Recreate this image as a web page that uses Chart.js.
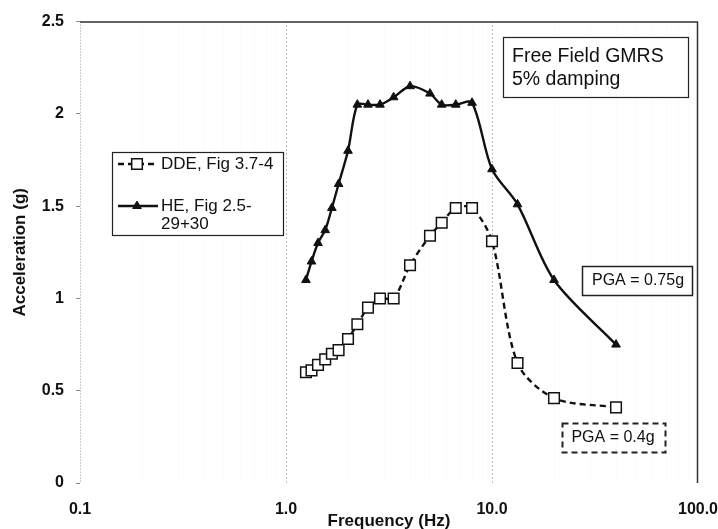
<!DOCTYPE html>
<html>
<head>
<meta charset="utf-8">
<script src="https://cdn.jsdelivr.net/npm/chart.js@4.4.1/dist/chart.umd.min.js"></script>
<style>
  html, body { margin: 0; padding: 0; background: #fff; }
  #wrap { position: relative; width: 718px; height: 529px; }
</style>
</head>
<body>
<div id="wrap"><canvas id="chart" width="718" height="529"></canvas></div>
<script>
// ── Data ─────────────────────────────────────────────────────────────────────
const FREQ_HZ = [1.25, 1.33, 1.43, 1.55, 1.67, 1.8, 2.0, 2.22, 2.5, 2.86, 3.33, 4.0, 5.0, 5.7, 6.67, 8.0, 10.0, 13.3, 20.0, 40.0];
const DDE_G   = [0.60, 0.61, 0.64, 0.67, 0.70, 0.72, 0.78, 0.86, 0.95, 1.00, 1.00, 1.18, 1.34, 1.41, 1.49, 1.49, 1.31, 0.65, 0.46, 0.41];
const HE_G    = [1.10, 1.20, 1.30, 1.37, 1.49, 1.62, 1.80, 2.05, 2.05, 2.05, 2.09, 2.15, 2.11, 2.05, 2.05, 2.06, 1.70, 1.51, 1.10, 0.75];

const SERIES_LABELS = ['DDE, Fig 3.7-4', 'HE, Fig 2.5-29+30'];
const LEGEND_LINES  = [['DDE, Fig 3.7-4'], ['HE, Fig 2.5-', '29+30']];
const X_MAJOR       = [0.1, 1, 10, 100];
const X_MINOR       = [0.2, 0.3, 0.4, 0.5, 0.6, 0.7, 0.8, 0.9, 2, 3, 4, 5, 6, 7, 8, 9, 20, 30, 40, 50, 60, 70, 80, 90];
const NOTE_TITLE    = ['Free Field GMRS', '5% damping'];
const NOTE_PGA_HE   = 'PGA = 0.75g';
const NOTE_PGA_DDE  = 'PGA = 0.4g';

const FONT = 'Arial, "Liberation Sans", sans-serif';
const INK  = '#111';

const toPts = ys => FREQ_HZ.map((f, i) => ({ x: f, y: ys[i] }));

// ── Frame, legend and text boxes ─────────────────────────────────────────────
const FF_Decor = {
  id: 'ffDecor',
  beforeDatasetsDraw(chart) {
    const { ctx, chartArea: a } = chart;
    ctx.save();
    ctx.strokeStyle = '#999';
    ctx.lineWidth = 1;
    ctx.setLineDash([1, 2]);
    ctx.beginPath(); ctx.moveTo(a.left + 0.5, a.top); ctx.lineTo(a.left + 0.5, a.bottom); ctx.stroke();
    ctx.setLineDash([]);
    ctx.strokeStyle = '#333';
    ctx.lineWidth = 1.5;
    ctx.beginPath();
    ctx.moveTo(a.left, a.top + 0.5); ctx.lineTo(a.right - 0.5, a.top + 0.5); ctx.lineTo(a.right - 0.5, a.bottom);
    ctx.stroke();
    ctx.restore();
  },
  afterDraw(chart) {
    const { ctx } = chart;
    const ds = chart.data.datasets;
    ctx.save();
    ctx.fillStyle = '#fff';
    ctx.strokeStyle = '#222';
    ctx.lineWidth = 1.2;

    // legend
    ctx.fillRect(112, 152, 171, 83);
    ctx.strokeRect(112.5, 152.5, 171, 83);
    const rows = [{ y: 164, dash: [6, 4] }, { y: 206, dash: [] }];
    rows.forEach((r, i) => {
      const d = ds[i];
      ctx.strokeStyle = INK; ctx.lineWidth = 2.4;
      ctx.setLineDash(r.dash);
      ctx.beginPath(); ctx.moveTo(118, r.y); ctx.lineTo(158, r.y); ctx.stroke();
      ctx.setLineDash([]);
      ctx.fillStyle = d.pointBackgroundColor; ctx.strokeStyle = d.pointBorderColor;
      ctx.lineWidth = d.pointBorderWidth;
      Chart.helpers.drawPoint(ctx, { pointStyle: d.pointStyle, radius: d.pointRadius, rotation: 0, borderWidth: d.pointBorderWidth }, 137, r.y);
      ctx.fillStyle = INK;
      ctx.font = '17px ' + FONT;
      ctx.textBaseline = 'middle';
      ctx.textAlign = 'left';
      LEGEND_LINES[i].forEach((t, k) => ctx.fillText(t, 161, r.y + k * 18));
    });

    // title box
    ctx.fillStyle = '#fff'; ctx.strokeStyle = '#222'; ctx.lineWidth = 1.2;
    ctx.fillRect(503, 37, 185, 60);
    ctx.strokeRect(503.5, 37.5, 185, 60);
    ctx.fillStyle = INK;
    ctx.font = '19.5px ' + FONT;
    ctx.textBaseline = 'middle';
    ctx.fillText(NOTE_TITLE[0], 512, 57);
    ctx.fillText(NOTE_TITLE[1], 512, 80);

    // PGA boxes
    ctx.font = '16px ' + FONT;
    ctx.textAlign = 'center';
    ctx.fillStyle = '#fff'; ctx.strokeStyle = '#222'; ctx.lineWidth = 1.5;
    ctx.fillRect(582, 266, 110, 29);
    ctx.strokeRect(582.5, 266.5, 110, 29);
    ctx.fillStyle = INK;
    ctx.fillText(NOTE_PGA_HE, 638, 281);

    ctx.setLineDash([6, 4]);
    ctx.lineWidth = 2;
    ctx.strokeRect(562.5, 423.5, 103, 29);
    ctx.setLineDash([]);
    ctx.fillText(NOTE_PGA_DDE, 613, 438);
    ctx.restore();
  },
};

new Chart(document.getElementById('chart').getContext('2d'), {
  type: 'line',
  data: {
    datasets: [
      {
        label: SERIES_LABELS[0], data: toPts(DDE_G),
        borderColor: INK, borderWidth: 2.4, borderDash: [6, 4], tension: 0.3,
        pointStyle: 'rect', pointRadius: 7.5, pointBackgroundColor: '#fff',
        pointBorderColor: INK, pointBorderWidth: 1.5,
      },
      {
        label: SERIES_LABELS[1], data: toPts(HE_G),
        borderColor: INK, borderWidth: 2.4, tension: 0.3,
        pointStyle: 'triangle', pointRadius: 5, pointBackgroundColor: INK,
        pointBorderColor: INK, pointBorderWidth: 1,
      },
    ],
  },
  options: {
    responsive: false, animation: false, devicePixelRatio: 1,
    layout: { padding: { top: 20, right: 0, left: 0, bottom: 0 } },
    plugins: { legend: { display: false }, tooltip: { enabled: false } },
    scales: {
      x: {
        type: 'logarithmic', min: 0.1, max: 100,
        afterBuildTicks: s => { s.ticks = [...X_MAJOR, ...X_MINOR].sort((a, b) => a - b).map(v => ({ value: v })); },
        afterFit: s => { s.height = 46; s.paddingLeft = 0; s.paddingRight = 20; },
        ticks: {
          autoSkip: false, maxRotation: 0, padding: 17, color: INK,
          font: { family: FONT, size: 16, weight: 'bold' },
          callback: v => X_MAJOR.includes(v) ? v.toFixed(1) : '',
        },
        grid: {
          drawTicks: false, lineWidth: 1,
          color: c => {
            const v = c.tick && c.tick.value;
            if (v === 1 || v === 10) return '#808080';
            if (v === 0.1 || v === 100) return 'rgba(0,0,0,0)';
            return '#eeeeee';
          },
        },
        border: { display: false, dash: [1, 3] },
        title: {
          display: true, text: 'Frequency (Hz)', color: INK, padding: { top: 0, bottom: -3 },
          font: { family: FONT, size: 17, weight: 'bold' },
        },
      },
      y: {
        min: 0, max: 2.5,
        afterFit: s => { s.width = 80; },
        ticks: {
          stepSize: 0.5, padding: 12, color: INK,
          font: { family: FONT, size: 16, weight: 'bold' },
          callback: v => String(+v.toFixed(1)),
        },
        grid: { drawOnChartArea: false, drawTicks: true, tickLength: 4, tickColor: '#888' },
        border: { display: false },
        title: {
          display: true, text: 'Acceleration (g)', color: INK, padding: { top: 10, bottom: 0 },
          font: { family: FONT, size: 17, weight: 'bold' },
        },
      },
    },
  },
  plugins: [FF_Decor],
});
</script>
</body>
</html>
